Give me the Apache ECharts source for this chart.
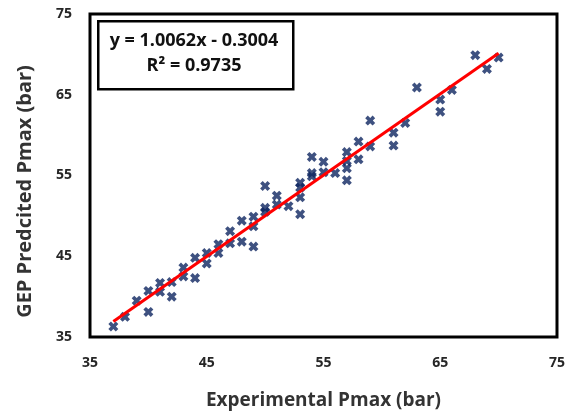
<!DOCTYPE html>
<html>
<head>
<meta charset="utf-8">
<script src="https://cdn.jsdelivr.net/npm/echarts@6/dist/echarts.min.js"></script>
<style>
html,body{margin:0;padding:0;background:#fff;}
#chart{width:568px;height:415px;}
</style>
</head>
<body>
<div id="chart"></div>
<script>
// Experimental Pmax (bar)
var experimental = [37,38,39,40,40,41,41,42,42,43,43,44,44,45,45,46,46,47,47,48,48,49,49,49,50,50,50,51,51,52,53,53,53,53,54,54,54,55,55,56,57,57,57,57,58,58,59,59,61,61,62,63,65,65,66,68,69,70];
// GEP predicted Pmax (bar)
var predicted = [36.3,37.5,39.5,38.1,40.7,41.7,40.6,41.8,40.0,43.6,42.5,44.8,42.3,45.4,44.1,46.5,45.4,48.1,46.6,49.4,46.8,49.9,48.7,46.2,53.7,51.0,50.5,52.5,51.4,51.2,54.1,53.5,52.3,50.2,54.9,57.3,55.3,56.7,55.4,55.3,57.9,56.8,55.9,54.4,59.2,57.0,61.8,58.6,60.3,58.7,61.5,65.9,64.4,62.9,65.6,69.9,68.2,69.6];
var slope = 1.0062;
var intercept = -0.3004;
var r2 = 0.9735;
var xTicks = [35,45,55,65,75];
var yTicks = [35,45,55,65,75];

var points = experimental.map(function(x,i){return [x,predicted[i]];});
var xMin = Math.min.apply(null, experimental);
var xMax = Math.max.apply(null, experimental);
var fitLine = [[xMin, slope*xMin+intercept],[xMax, slope*xMax+intercept]];

var FONT = '"Open Sans"';
var chart = echarts.init(document.getElementById('chart'));
chart.setOption({
  animation:false,
  backgroundColor:'#fff',
  grid:{left:90,right:11,top:14,bottom:65,show:true,borderColor:'#000',borderWidth:3,backgroundColor:'transparent'},
  xAxis:{
    type:'value',min:xTicks[0],max:xTicks[xTicks.length-1],interval:10,
    axisLine:{show:false},axisTick:{show:false},splitLine:{show:false},
    axisLabel:{margin:19,fontFamily:FONT,fontWeight:'bold',fontSize:14,color:'#262626'},
    name:'Experimental Pmax (bar)',nameLocation:'middle',nameGap:54,
    nameTextStyle:{fontFamily:FONT,fontWeight:'bold',fontSize:19,color:'#333'}
  },
  yAxis:{
    type:'value',min:yTicks[0],max:yTicks[yTicks.length-1],interval:10,
    axisLine:{show:false},axisTick:{show:false},splitLine:{show:false},
    axisLabel:{margin:18,fontFamily:FONT,fontWeight:'bold',fontSize:14,color:'#262626'},
    name:'GEP Predcited Pmax (bar)',nameLocation:'middle',nameGap:55,
    nameTextStyle:{fontFamily:FONT,fontWeight:'bold',fontSize:20,color:'#333',padding:[0,32,0,0]}
  },
  series:[
    {
      type:'scatter',data:points,
      symbol:'path://M0,2.6 L2.6,0 L5,2.4 L7.4,0 L10,2.6 L7.6,5 L10,7.4 L7.4,10 L5,7.6 L2.6,10 L0,7.4 L2.4,5 Z',
      symbolSize:10,itemStyle:{color:'#0E2660'},z:2
    },
    {
      type:'line',data:fitLine,showSymbol:false,symbol:'none',
      lineStyle:{color:'#FF0000',width:3},z:3
    }
  ],
  graphic:[
    {type:'rect',left:97,top:20,shape:{width:195,height:68},
     style:{fill:'#fff',stroke:'#000',lineWidth:2.5},z:10},
    {type:'text',x:194,y:41,
     style:{text:'y = '+slope.toFixed(4)+'x - '+Math.abs(intercept).toFixed(4),
            font:'bold 18px "Open Sans"',fill:'#111',align:'center',verticalAlign:'middle'},z:11},
    {type:'text',x:194,y:66,
     style:{text:'R\u00B2 = '+r2.toFixed(4),
            font:'bold 18px "Open Sans"',fill:'#111',align:'center',verticalAlign:'middle'},z:11}
  ]
});
</script>
</body>
</html>
